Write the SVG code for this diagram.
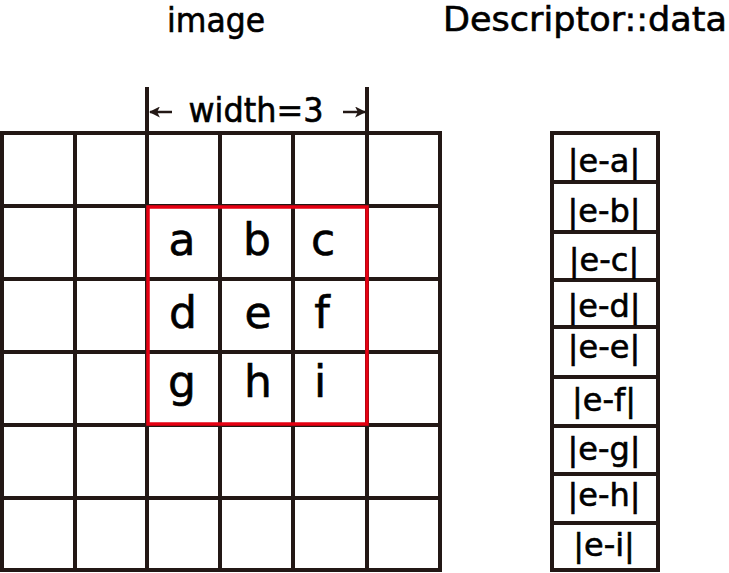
<svg xmlns="http://www.w3.org/2000/svg" width="729" height="573" viewBox="0 0 729 573">
<defs>
<style>
.ln{stroke:#231815;stroke-width:4;fill:none;stroke-linecap:square}
.t{font-family:"Comic Sans MS","DejaVu Sans",sans-serif;fill:#000;stroke:#000;stroke-width:0.6}
.cell{font-size:44px;text-anchor:middle}
.box{font-size:32px;text-anchor:middle}
.title{font-size:33px;text-anchor:middle}
</style>
<marker id="ah" viewBox="0 0 10 10" refX="9" refY="5" markerWidth="11" markerHeight="11" markerUnits="userSpaceOnUse" orient="auto">
<path d="M0,0 L10,5 L0,10 L2.5,5 Z" fill="#231815"/>
</marker>
</defs>
<rect width="729" height="573" fill="#fff"/>
<g id="titles">
<text class="t title" x="216" y="32" textLength="98" lengthAdjust="spacingAndGlyphs">image</text>
<text class="t title" x="585" y="31" textLength="284" lengthAdjust="spacingAndGlyphs">Descriptor::data</text>
</g>
<g id="image-grid">
<path class="ln" d="M2,133H440M2,206H440M2,279H440M2,352H440M2,425H440M2,498H440M2,570H440M2,133V570M75,133V570M147,133V570M220,133V570M293,133V570M367,133V570M440,133V570"/>
</g>
<g id="window">
<rect x="148" y="207" width="219" height="217" fill="none" stroke="#e60012" stroke-width="3.5"/>
<text class="t cell" x="182" y="255">a</text>
<text class="t cell" x="257" y="255">b</text>
<text class="t cell" x="323" y="255">c</text>
<text class="t cell" x="183" y="328">d</text>
<text class="t cell" x="258" y="328">e</text>
<text class="t cell" x="322" y="328">f</text>
<text class="t cell" x="182" y="397">g</text>
<text class="t cell" x="258" y="397">h</text>
<text class="t cell" x="320" y="397">i</text>
</g>
<g id="connectors">
<path class="ln" d="M147,89V133M367,89V133" stroke-linecap="butt"/>
<line x1="172" y1="112" x2="150" y2="112" stroke="#231815" stroke-width="2.5" marker-end="url(#ah)"/>
<line x1="343" y1="112" x2="365" y2="112" stroke="#231815" stroke-width="2.5" marker-end="url(#ah)"/>
</g>
<g id="width-label">
<text class="t" x="256" y="122" font-size="33" text-anchor="middle" textLength="135" lengthAdjust="spacingAndGlyphs">width=3</text>
</g>
<g id="descriptor">
<path class="ln" d="M552,133H658V570H552Z M552,182H658M552,232H658M552,280H658M552,327H658M552,377H658M552,426H658M552,474H658M552,523H658"/>
<text class="t box" x="604" y="172">|e-a|</text>
<text class="t box" x="604" y="222">|e-b|</text>
<text class="t box" x="604" y="271">|e-c|</text>
<text class="t box" x="604" y="317">|e-d|</text>
<text class="t box" x="604" y="358">|e-e|</text>
<text class="t box" x="604" y="411">|e-f|</text>
<text class="t box" x="604" y="460">|e-g|</text>
<text class="t box" x="604" y="506">|e-h|</text>
<text class="t box" x="604" y="556">|e-i|</text>
</g>
</svg>
